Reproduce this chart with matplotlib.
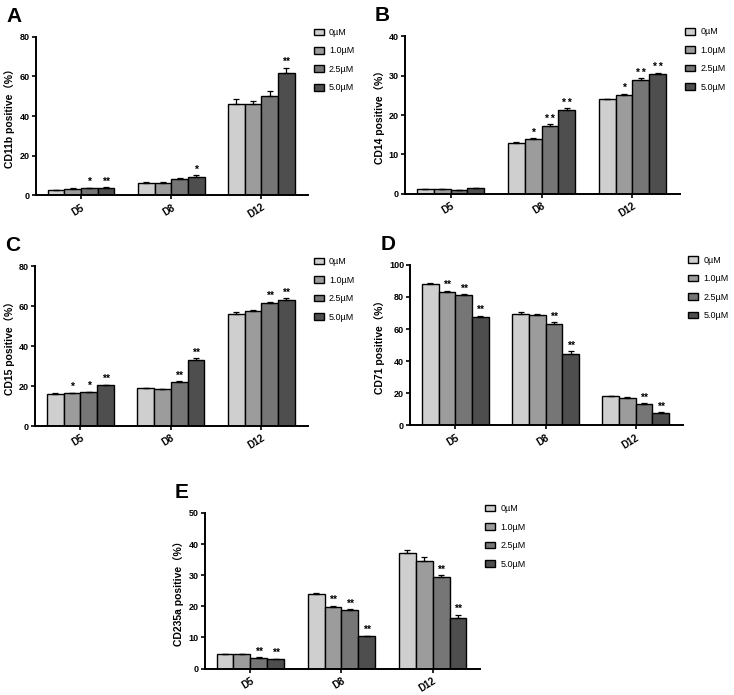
import numpy as np
import matplotlib
matplotlib.use("Agg")
import matplotlib.pyplot as plt
from matplotlib.patches import Patch

plt.rcParams['font.family'] = ['Liberation Sans', 'Noto Sans CJK SC', 'DejaVu Sans']

days = ["D5", "D8", "D12"]
doses = ["0µM", "1.0µM", "2.5µM", "5.0µM"]
colors = ["#cfcfcf", "#9c9c9c", "#767676", "#4e4e4e"]

# values per dose, one entry per day (D5, D8, D12)
cd11b = [[2.5, 6.2, 46.0], [3.2, 6.3, 46.0], [3.5, 8.3, 50.0], [3.8, 9.4, 61.8]]
cd11b_err = [[0.3, 0.4, 2.4], [0.3, 0.4, 1.8], [0.3, 0.6, 2.8], [0.3, 0.7, 2.6]]
cd11b_sig = [["", "", ""], ["", "", ""], ["*", "", ""], ["**", "*", "**"]]

cd14 = [[1.2, 13.0, 24.0], [1.2, 14.0, 25.2], [1.0, 17.3, 28.8], [1.5, 21.4, 30.5]]
cd14_err = [[0.1, 0.1, 0.1], [0.1, 0.1, 0.1], [0.1, 0.3, 0.5], [0.1, 0.3, 0.2]]
cd14_sig = [["", "", ""], ["", "*", "*"], ["", "* *", "* *"], ["", "* *", "* *"]]

cd15 = [[16.0, 18.8, 56.3], [16.5, 18.5, 57.7], [16.8, 22.0, 61.7], [20.3, 33.0, 63.3]]
cd15_err = [[0.3, 0.4, 0.9], [0.2, 0.2, 0.2], [0.2, 0.3, 0.4], [0.4, 0.8, 0.7]]
cd15_sig = [["", "", ""], ["*", "", ""], ["*", "**", "**"], ["**", "**", "**"]]

cd71 = [[88.0, 69.4, 18.1], [83.2, 68.8, 17.3], [80.9, 63.2, 13.5], [67.6, 44.7, 7.5]]
cd71_err = [[0.5, 0.9, 0.4], [0.6, 0.6, 0.3], [0.6, 1.0, 0.3], [0.5, 1.3, 0.5]]
cd71_sig = [["", "", ""], ["**", "", ""], ["**", "**", "**"], ["**", "**", "**"]]

cd235a = [[4.7, 23.9, 37.0], [4.6, 19.9, 34.5], [3.5, 18.8, 29.5], [3.0, 10.4, 16.3]]
cd235a_err = [[0.1, 0.4, 1.2], [0.1, 0.2, 1.3], [0.1, 0.2, 0.5], [0.1, 0.2, 0.9]]
cd235a_sig = [["", "", ""], ["", "**", ""], ["**", "**", "**"], ["**", "**", "**"]]


def draw_panel(ax, vals, errs, sigs, ymax, ystep, ylabel, letter):
    x = np.arange(len(days))
    w = 0.185
    for i in range(len(doses)):
        pos = x + (i - 1.5) * w
        ax.bar(pos, vals[i], w, color=colors[i], edgecolor="black", linewidth=1.0,
               label=doses[i], zorder=2)
        ax.errorbar(pos, vals[i], yerr=[np.zeros(3), errs[i]], fmt="none",
                    ecolor="black", elinewidth=0.9, capsize=2.5, capthick=0.9, zorder=3)
        for j in range(len(days)):
            if sigs[i][j]:
                ax.text(pos[j], vals[i][j] + errs[i][j] + ymax * 0.005, sigs[i][j],
                        ha="center", va="bottom", fontsize=7.5, fontweight="bold")
    ax.set_xlim(-0.5, 2.52)
    ax.set_ylim(0, ymax)
    ax.set_yticks(np.arange(0, ymax + 1, ystep))
    ax.set_xticks(x)
    ax.set_xticklabels(days, rotation=32, ha="right", rotation_mode="anchor",
                       fontsize=7, fontweight="bold")
    for lab in ax.get_yticklabels():
        lab.set_fontweight("bold")
        lab.set_fontsize(6.5)
    ax.tick_params(axis="y", length=3, width=1.2, pad=1.5)
    ax.tick_params(axis="x", length=3, width=1.2, pad=2)
    for s in ["top", "right"]:
        ax.spines[s].set_visible(False)
    for s in ["left", "bottom"]:
        ax.spines[s].set_linewidth(1.4)
    ax.set_ylabel(ylabel, fontsize=7.5, fontweight="bold", labelpad=3)
    handles = [Patch(facecolor=colors[i], edgecolor="black", linewidth=1.0, label=doses[i])
               for i in range(len(doses))]
    ax.legend(handles=handles, loc="upper left", bbox_to_anchor=(1.0, 1.09), frameon=False,
              fontsize=6.5, handlelength=1.1, handleheight=0.75, labelspacing=1.05,
              handletextpad=0.6, borderaxespad=0.2)
    ax.text(-0.11, 1.07, letter, transform=ax.transAxes, fontsize=15,
            fontweight="bold", ha="left", va="bottom")


fig = plt.figure(figsize=(7.34, 6.95), dpi=100)
axA = fig.add_axes([0.049, 0.719, 0.371, 0.228])
axB = fig.add_axes([0.552, 0.721, 0.374, 0.227])
axC = fig.add_axes([0.048, 0.387, 0.372, 0.230])
axD = fig.add_axes([0.559, 0.388, 0.371, 0.231])
axE = fig.add_axes([0.279, 0.038, 0.375, 0.224])

draw_panel(axA, cd11b, cd11b_err, cd11b_sig, 80, 20, "CD11b positive（%）", "A")
draw_panel(axB, cd14, cd14_err, cd14_sig, 40, 10, "CD14 positive（%）", "B")
draw_panel(axC, cd15, cd15_err, cd15_sig, 80, 20, "CD15 positive（%）", "C")
draw_panel(axD, cd71, cd71_err, cd71_sig, 100, 20, "CD71 positive（%）", "D")
draw_panel(axE, cd235a, cd235a_err, cd235a_sig, 50, 10, "CD235a positive（%）", "E")

fig.savefig("out.png", dpi=100, facecolor="white")
